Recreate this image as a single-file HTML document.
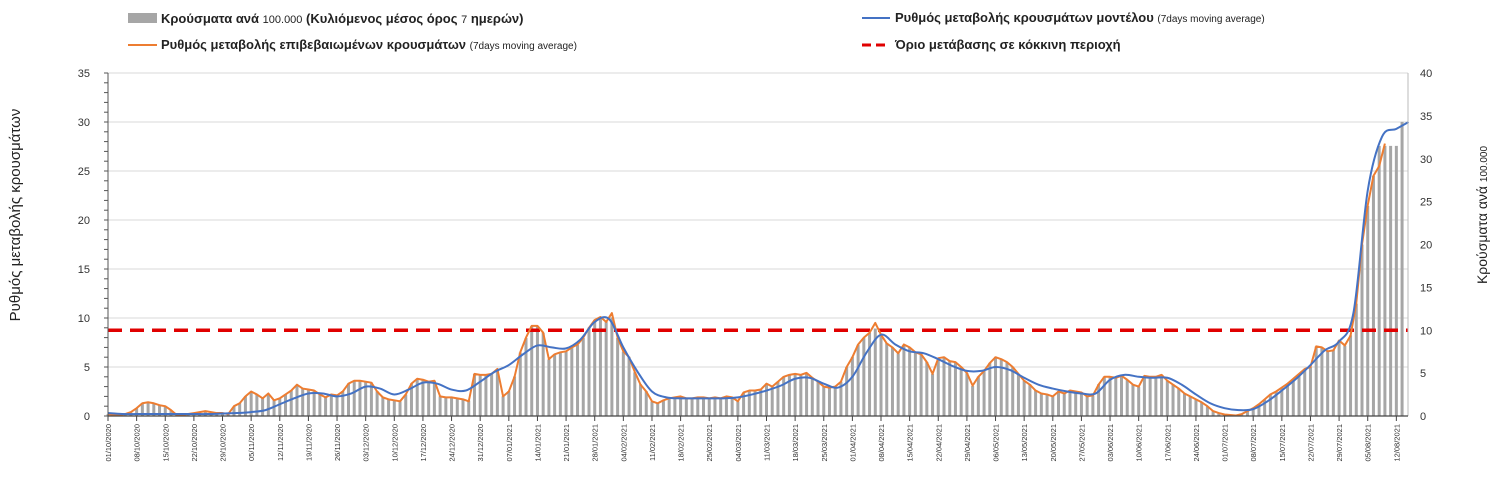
<!DOCTYPE html>
<html><head><meta charset="utf-8">
<style>
body{margin:0;background:#fff;width:1500px;height:498px;overflow:hidden;font-family:"Liberation Sans","DejaVu Sans",sans-serif;}
svg text{font-family:"Liberation Sans","DejaVu Sans",sans-serif;}
</style></head>
<body>
<svg id="chart" width="1500" height="498" viewBox="0 0 1500 498">
  <g>
    <g>
      <rect x="128" y="13" width="29" height="10" fill="#a6a6a6"/>
      <text x="161" y="23" font-size="13" font-weight="bold" fill="#222">Κρούσματα ανά <tspan font-size="11" font-weight="normal">100.000</tspan> (Κυλιόμενος μέσος όρος <tspan font-size="11" font-weight="normal">7</tspan> ημερών)</text>
    </g>
    <g>
      <line x1="128" y1="45" x2="157" y2="45" stroke="#ed7d31" stroke-width="2"/>
      <text x="161" y="49" font-size="13" font-weight="bold" fill="#222">Ρυθμός μεταβολής επιβεβαιωμένων κρουσμάτων <tspan font-size="10" font-weight="normal">(7days moving average)</tspan></text>
    </g>
    <g>
      <line x1="862" y1="18" x2="890" y2="18" stroke="#4472c4" stroke-width="2"/>
      <text x="895" y="22" font-size="13" font-weight="bold" fill="#222">Ρυθμός μεταβολής κρουσμάτων μοντέλου <tspan font-size="10" font-weight="normal">(7days moving average)</tspan></text>
    </g>
    <g>
      <line x1="862" y1="45" x2="890" y2="45" stroke="#e00000" stroke-width="3" stroke-dasharray="9,5"/>
      <text x="895" y="49" font-size="13" font-weight="bold" fill="#222">Όριο μετάβασης σε κόκκινη περιοχή</text>
    </g>
  </g>
  <text transform="translate(20,215) rotate(-90)" text-anchor="middle" font-size="15" fill="#222">Ρυθμός μεταβολής κρουσμάτων</text>
  <text transform="translate(1487,215) rotate(-90)" text-anchor="middle" font-size="14" fill="#222">Κρούσματα ανά <tspan font-size="10">100.000</tspan></text>
  <g id="grid"></g><g id="bars"></g><g id="lines"></g><g id="axes"></g>
</svg>
<script>
const weekLabels=["01/10/2020","08/10/2020","15/10/2020","22/10/2020","29/10/2020","05/11/2020","12/11/2020","19/11/2020","26/11/2020","03/12/2020","10/12/2020","17/12/2020","24/12/2020","31/12/2020","07/01/2021","14/01/2021","21/01/2021","28/01/2021","04/02/2021","11/02/2021","18/02/2021","25/02/2021","04/03/2021","11/03/2021","18/03/2021","25/03/2021","01/04/2021","08/04/2021","15/04/2021","22/04/2021","29/04/2021","06/05/2021","13/05/2021","20/05/2021","27/05/2021","03/06/2021","10/06/2021","17/06/2021","24/06/2021","01/07/2021","08/07/2021","15/07/2021","22/07/2021","29/07/2021","05/08/2021","12/08/2021"];
const leftTicks=[0,5,10,15,20,25,30,35];
const rightTicks=[0,5,10,15,20,25,30,35,40];
const threshold=10;
const barValues=[0.2,0.2,0.1,0.2,0.4, 0.9,1.5,1.6,1.5,1.3, 1.1,0.7,0.2,0.2,0.3, 0.4,0.5,0.6,0.5,0.4, 0.3,0.3,1.1,1.5,2.3,
2.8,2.5,2.1,2.6,1.9, 2.1,2.5,3.0,3.6,3.2, 3.1,3.0,2.5,2.2,2.5, 2.4,2.9,3.8,4.1,4.1, 4.0,3.9,2.9,2.2,2.0,
1.8,1.7,2.5,3.8,4.3, 4.2,4.0,4.1,2.3,2.2, 2.2,2.1,1.9,1.8,4.9, 4.8,4.8,4.9,5.5,2.3, 2.9,4.6,7.4,9.1,10.5,
10.5,9.7,6.6,7.2,7.4, 7.5,8.0,8.3,9.1,10.3, 11.2,11.5,11.0,11.5,9.1, 7.5,6.9,5.1,3.7,2.9, 1.7,1.5,1.8,2.1,2.2,
2.3,2.1,2.1,2.2,2.2, 2.1,2.2,2.1,2.3,2.2, 1.7,2.7,3.0,3.0,3.1, 3.8,3.4,4.0,4.6,4.8, 4.9,4.8,5.0,4.5,4.0,
3.4,3.3,3.4,4.0,5.7, 6.9,8.3,9.1,9.7,10.2, 9.5,8.5,8.0,7.3,8.3, 8.0,7.4,7.2,6.3,4.9, 6.7,6.9,6.4,6.3,5.7,
5.0,3.5,4.6,5.3,6.2, 6.9,6.6,6.3,5.7,4.9, 4.1,3.7,3.0,2.6,2.5, 2.3,2.9,2.6,3.0,2.9, 2.7,2.3,2.4,3.7,4.6,
4.6,4.5,4.7,4.2,3.7, 3.4,4.7,4.6,4.6,4.8, 4.1,3.7,3.2,2.6,2.3, 1.9,1.6,1.1,0.6,0.3, 0.2,0.1,0.1,0.2,0.6,
0.9,1.4,1.9,2.5,2.9, 3.3,3.8,4.3,4.9,5.5, 5.7,8.1,8.0,7.5,7.7, 8.8,8.2,9.4,13.1,20.0, 24.5,28.0,31.5,31.5,31.5,31.5,34.3];
const orangeValues=[0.2,0.1,0.1,0.2,0.4, 0.8,1.3,1.4,1.3,1.1, 1.0,0.6,0.1,0.1,0.2, 0.3,0.4,0.5,0.4,0.3, 0.3,0.2,1.0,1.3,2.0,
2.5,2.2,1.8,2.3,1.6, 1.8,2.2,2.6,3.2,2.8, 2.7,2.6,2.2,1.9,2.2, 2.1,2.5,3.3,3.6,3.6, 3.5,3.4,2.5,1.9,1.7,
1.6,1.5,2.2,3.3,3.8, 3.7,3.5,3.6,2.0,1.9, 1.9,1.8,1.7,1.5,4.3, 4.2,4.2,4.3,4.8,2.0, 2.5,4.0,6.5,8.0,9.2,
9.2,8.5,5.8,6.3,6.5, 6.6,7.0,7.3,8.0,9.0, 9.8,10.1,9.6,10.5,8.0, 6.6,6.0,4.5,3.2,2.5, 1.5,1.3,1.6,1.8,1.9,
2.0,1.8,1.8,1.9,1.9, 1.8,1.9,1.8,2.0,1.9, 1.5,2.4,2.6,2.6,2.7, 3.3,3.0,3.5,4.0,4.2, 4.3,4.2,4.4,3.9,3.5,
3.0,2.9,3.0,3.5,5.0, 6.0,7.3,8.0,8.5,9.5, 8.3,7.4,7.0,6.4,7.3, 7.0,6.5,6.3,5.5,4.3, 5.9,6.0,5.6,5.5,5.0,
4.4,3.1,4.0,4.6,5.4, 6.0,5.8,5.5,5.0,4.3, 3.6,3.2,2.6,2.3,2.2, 2.0,2.5,2.3,2.6,2.5, 2.4,2.0,2.1,3.2,4.0,
4.0,3.9,4.1,3.7,3.2, 3.0,4.1,4.0,4.0,4.2, 3.6,3.2,2.8,2.3,2.0, 1.7,1.4,1.0,0.5,0.3, 0.15,0.1,0.05,0.2,0.5,
0.8,1.2,1.7,2.2,2.5, 2.9,3.3,3.8,4.3,4.8, 5.0,7.1,7.0,6.6,6.7, 7.7,7.2,8.2,11.5,17.5, 21.5,24.5,25.5,27.8];
const blueValues=[0.3,0.2,0.2,0.2,0.2,0.2,0.2,0.2,0.25,0.3,0.4,0.6,1.2,1.8,2.3,2.3,2.0,2.3,3.0,2.8,2.2,2.7,3.4,3.3,2.7,2.6,3.5,4.5,
5.2,6.3,7.2,7.0,6.9,7.8,9.6,9.9,7.0,4.5,2.5,1.9,1.8,1.8,1.8,1.8,1.9,2.2,2.6,3.1,3.8,3.9,3.3,2.9,4.0,6.5,8.3,7.3,
6.6,6.4,5.8,5.1,4.6,4.6,5.0,4.7,3.9,3.2,2.8,2.5,2.3,2.3,3.7,4.2,4.0,3.9,3.9,3.2,2.2,1.3,0.8,0.6,0.7,1.5,2.6,3.8,
5.2,6.7,7.6,10.5,23.0,28.5,29.3,30.0];

const NS="http://www.w3.org/2000/svg";
const X0=108,PXD=4.09,Y0=416,LPX=9.8,RPX=8.575;
const xDay=d=>X0+d*PXD;
const yL=v=>Y0-v*LPX;
const yR=v=>Y0-v*RPX;
function mk(tag,attrs,parent){const e=document.createElementNS(NS,tag);for(const k in attrs)e.setAttribute(k,attrs[k]);parent.appendChild(e);return e;}
const grid=document.getElementById('grid'),bars=document.getElementById('bars'),lines=document.getElementById('lines'),axes=document.getElementById('axes');
const RIGHT=1408;
leftTicks.forEach(t=>{
  if(t>0){const g=mk('line',{x1:X0,x2:RIGHT,y1:yL(t),y2:yL(t),stroke:'#d9d9d9','stroke-width':1},grid);
  
  }
  const tx=mk('text',{x:90,y:yL(t)+4,'text-anchor':'end','font-size':11,fill:'#333'},axes);
  tx.textContent=t;
  
  
});
for(let v=0;v<=35;v++){mk('line',{x1:X0-4,x2:X0,y1:yL(v),y2:yL(v),stroke:'#555','stroke-width':1},axes);}
rightTicks.forEach(t=>{
  const tx=mk('text',{x:1420,y:yR(t)+4,'font-size':11,fill:'#333'},axes);
  tx.textContent=t;
  
  
});
barValues.forEach((v,i)=>{
  const x=xDay(i*1.4);
  const r=mk('rect',{x:x-1.5,y:yR(v),width:3,height:Math.max(0,Y0-yR(v)),fill:'#a6a6a6'},bars);
  
  
});
const thr=mk('line',{x1:X0,x2:RIGHT,y1:yR(threshold),y2:yR(threshold),stroke:'#e00000','stroke-width':3.5,'stroke-dasharray':'14,8'},lines);


function smoothPath(pts){let d=`M${pts[0][0]},${pts[0][1]}`;for(let i=0;i<pts.length-1;i++){const p0=pts[i-1]||pts[i],p1=pts[i],p2=pts[i+1],p3=pts[i+2]||p2;
const c1=[p1[0]+(p2[0]-p0[0])/6,p1[1]+(p2[1]-p0[1])/6],c2=[p2[0]-(p3[0]-p1[0])/6,p2[1]-(p3[1]-p1[1])/6];d+=` C${c1[0]},${c1[1]} ${c2[0]},${c2[1]} ${p2[0]},${p2[1]}`;}return d;}
const op=orangeValues.map((v,i)=>[xDay(i*1.4),yL(v)]);
const oPath=mk('path',{d:'M'+op.map(p=>p.join(',')).join(' L'),fill:'none',stroke:'#ed7d31','stroke-width':2,'stroke-linejoin':'round'},lines);


const bp=blueValues.map((v,i)=>[Math.min(xDay(i*3.5),xDay(318)),yL(v)]);
bp[bp.length-1][0]=xDay(318);
const bPath=mk('path',{d:smoothPath(bp),fill:'none',stroke:'#4472c4','stroke-width':2},lines);


const la=mk('line',{x1:X0,x2:X0,y1:73,y2:Y0,stroke:'#555','stroke-width':1},axes);


const ra=mk('line',{x1:RIGHT,x2:RIGHT,y1:73,y2:Y0,stroke:'#bbb','stroke-width':1},axes);


const xa=mk('line',{x1:X0,x2:RIGHT,y1:Y0,y2:Y0,stroke:'#444','stroke-width':1.2},axes);


weekLabels.forEach((lab,i)=>{
  const x=xDay(i*7);
  mk('line',{x1:x,x2:x,y1:Y0,y2:Y0+5,stroke:'#444','stroke-width':1},axes);
  const t=mk('text',{transform:`translate(${x+3},${Y0+8}) rotate(-90)`,'text-anchor':'end','font-size':7.5,fill:'#333'},axes);
  t.textContent=lab;
  
  
});
</script>
</body></html>
